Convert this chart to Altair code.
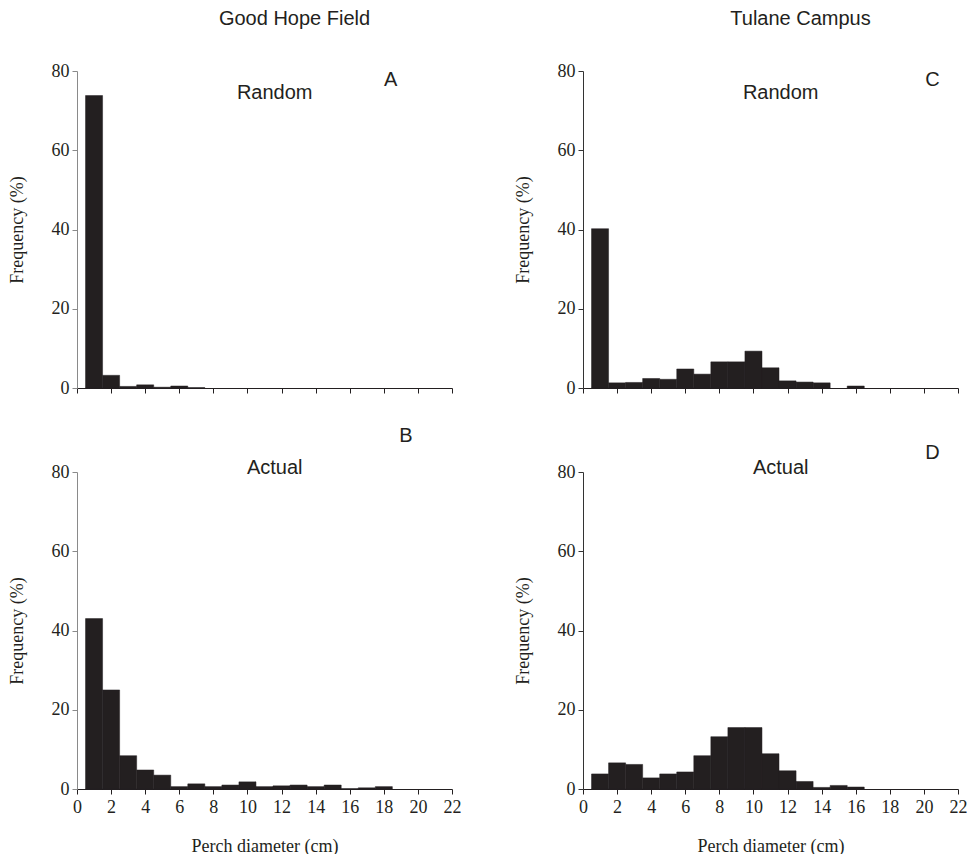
import altair as alt
import pandas as pd

# Perch diameter bins (centres, cm)
diameter = list(range(1, 22))

# Frequencies (%)
gh_random = [73.8, 3.2, 0.4, 0.8, 0.2, 0.5, 0.1, 0, 0, 0, 0, 0, 0, 0, 0, 0, 0, 0, 0, 0, 0]
gh_actual = [43.0, 25.0, 8.4, 4.8, 3.5, 0.6, 1.3, 0.6, 1.0, 1.8, 0.6, 0.8, 1.0, 0.6, 1.0, 0.1, 0.3, 0.6, 0, 0, 0]
tu_random = [40.2, 1.3, 1.4, 2.4, 2.2, 4.8, 3.5, 6.6, 6.6, 9.3, 5.1, 1.8, 1.5, 1.3, 0, 0.5, 0, 0, 0, 0, 0]
tu_actual = [3.8, 6.6, 6.2, 2.8, 3.8, 4.3, 8.4, 13.2, 15.5, 15.5, 8.9, 4.6, 1.9, 0.4, 0.9, 0.5, 0, 0, 0, 0, 0]

x_ticks = list(range(0, 23, 2))
y_ticks = [0, 20, 40, 60, 80]

DARK = "#231f20"
SERIF = "Liberation Serif"
SANS = "Liberation Sans"


def panel(values, kind, letter, kind_pos, letter_pos, ycolor, bottom, title=None):
    df = pd.DataFrame({"d": diameter, "f": values})
    if bottom:
        xaxis = alt.Axis(values=x_ticks, title="Perch diameter (cm)", labelPadding=4,
                         titlePadding=21, labelFlush=False, labelOverlap=False)
    else:
        xaxis = alt.Axis(values=x_ticks, title=None, labels=False)
    yaxis = alt.Axis(values=y_ticks, title="Frequency (%)", titlePadding=25, labelPadding=3,
                     domainColor=ycolor, tickColor=ycolor, labelFlush=False, labelOverlap=False)
    xscale = alt.Scale(domain=[0, 22], nice=False)
    yscale = alt.Scale(domain=[0, 80], nice=False)
    bars = (
        alt.Chart(df)
        .transform_filter("datum.f > 0")
        .transform_calculate(lo="datum.d - 0.5", hi="datum.d + 0.5")
        .mark_bar(color=DARK, stroke=DARK, strokeWidth=0.5)
        .encode(
            x=alt.X("lo:Q", scale=xscale, axis=xaxis),
            x2="hi:Q",
            y=alt.Y("f:Q", scale=yscale, axis=yaxis),
            y2=alt.datum(0),
        )
    )

    def label(txt, pos):
        return (
            alt.Chart(pd.DataFrame({"label": [txt]}))
            .mark_text(font=SANS, fontSize=20, color=DARK, align="center", baseline="middle")
            .encode(
                x=alt.XDatum(pos[0], type="quantitative", scale=xscale, axis=xaxis),
                y=alt.YDatum(pos[1], type="quantitative", scale=yscale, axis=yaxis),
                text="label:N",
            )
        )

    layer = alt.layer(bars, label(kind, kind_pos), label(letter, letter_pos))
    if title is not None:
        return layer.properties(
            width=375, height=317,
            title=alt.TitleParams(text=title, font=SANS, fontSize=20, fontWeight="normal",
                                  color=DARK, offset=33, dx=30, anchor="middle"),
        )
    return layer.properties(width=375, height=317)


pA = panel(gh_random, "Random", "A", (11.6, 74.5), (18.4, 77.8), "#8a8a8a", False, "Good Hope Field")
pC = panel(tu_random, "Random", "C", (11.6, 74.5), (20.5, 77.8), "#333333", False, "Tulane Campus")
pB = panel(gh_actual, "Actual", "B", (11.6, 81.0), (19.3, 89.1), "#8a8a8a", True)
pD = panel(tu_actual, "Actual", "D", (11.6, 81.0), (20.5, 84.8), "#333333", True)

chart = (
    alt.concat(pA, pC, pB, pD, columns=2, spacing={"row": 84, "column": 131}, bounds="flush")
    .properties(padding={"left": 8, "top": 9, "right": 0, "bottom": 0}, background="white")
    .configure_view(stroke=None)
    .configure_axis(
        grid=False,
        labelFont=SERIF, labelFontSize=18, labelColor=DARK,
        titleFont=SERIF, titleFontSize=18, titleFontWeight="normal", titleColor=DARK,
        tickSize=5, tickColor=DARK, domainColor=DARK,
    )
    .configure_axisX(labelOverlap=False, labelFlush=False)
)

chart.save("out.html", embed_options={"renderer": "svg", "actions": False})
